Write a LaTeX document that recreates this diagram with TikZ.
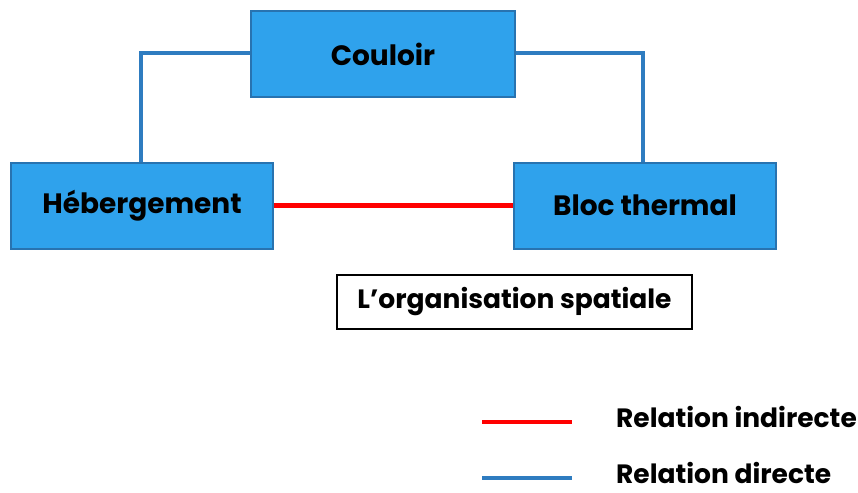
\documentclass[tikz,border=0pt]{standalone}
\usepackage{fontspec}
\setmainfont{Poppins}
\definecolor{boxfill}{HTML}{2FA2EC}
\definecolor{boxedge}{HTML}{2873B0}
\definecolor{directline}{HTML}{2E7CC0}
\definecolor{indirectline}{HTML}{FF0000}
\begin{document}
\begin{tikzpicture}[x=1pt,y=-1pt,
  room/.style={draw=boxedge, line width=2pt, fill=boxfill, minimum width=264pt,
    minimum height=86pt, inner sep=0pt, font=\bfseries\fontsize{28}{32}\selectfont},
  direct/.style={draw=directline, line width=4.5pt},
  indirect/.style={draw=indirectline, line width=4.5pt},
  caption/.style={font=\bfseries\fontsize{26.5}{30}\selectfont, anchor=base west, inner sep=0pt}]
\useasboundingbox (0,0) rectangle (858,492);
% three spaces
\node[room] (couloir) at (383,54) {Couloir};
\node[room, minimum width=262pt] (heberg) at (142,205.5) {Hébergement};
\node[room, minimum width=262pt] (bloc) at (645,205.5) {Bloc thermal};
% links between spaces
\draw[direct] (couloir.west |- 0,53) -| (heberg.north -| 141,0);
\draw[direct] (couloir.east |- 0,53) -| (bloc.north -| 643,0);
\draw[indirect] (heberg.east) -- (bloc.west);
% title
\node[draw=black, line width=1.8pt, minimum width=355pt, minimum height=54pt,
  inner sep=0pt, font=\bfseries\fontsize{26.5}{30}\selectfont] (titre) at (514.5,302) {L’organisation spatiale};
% legend
\coordinate (r1) at (482,422);
\coordinate (r2) at (572,422);
\coordinate (b1) at (482,478);
\coordinate (b2) at (572,478);
\draw[indirect] (r1) -- (r2);
\draw[direct] (b1) -- (b2);
\node[caption] (lind) at (616,427) {Relation indirecte};
\node[caption] (ldir) at (616,483) {Relation directe};
\end{tikzpicture}
\end{document}
